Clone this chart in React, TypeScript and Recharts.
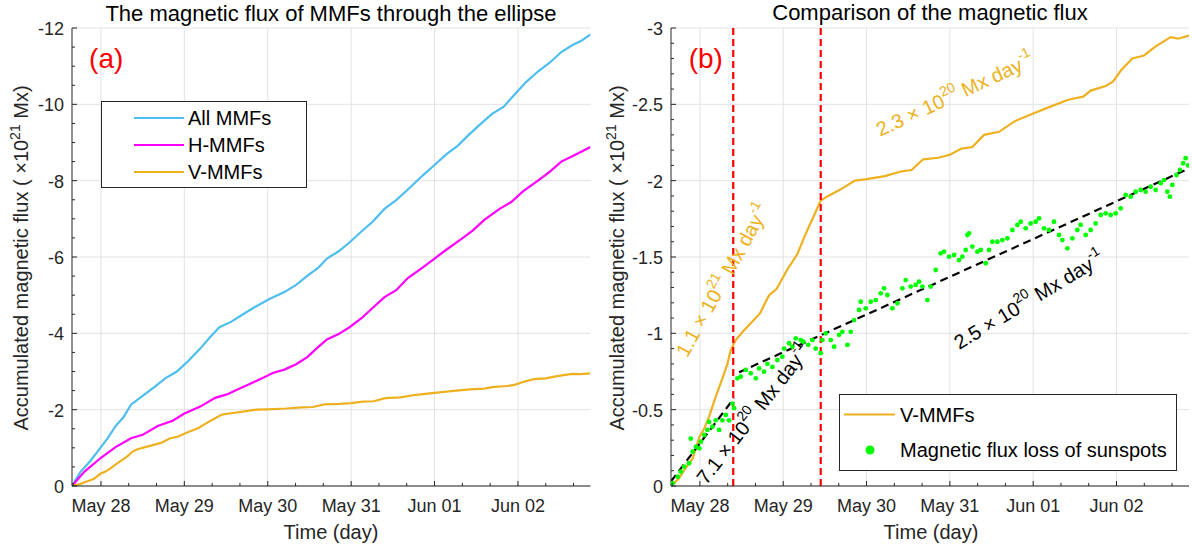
import React from 'react';
import {
  ComposedChart, Line, Scatter, XAxis, YAxis, CartesianGrid,
  ReferenceLine, ReferenceDot, Legend,
} from 'recharts';

const FONT = '"Liberation Sans", Arial, Helvetica, sans-serif';
const AX = '#262626';
const GRID = '#e2e2e2';
const C_ALL = '#4DBEEE';
const C_H = '#FF00FF';
const C_V = '#EDB120';
const C_G = '#00FF00';
const LW = 2.2;

// ---------- axis ticks ----------
const dayTicks = [0, 1, 2, 3, 4, 5];
const dayLabels = ['May 28', 'May 29', 'May 30', 'May 31', 'Jun 01', 'Jun 02'];
const xDomain = [-0.347, 5.87];
const xMinorTicks = [-1 / 3, 0, 1 / 3, 2 / 3, 1, 4 / 3, 5 / 3, 2, 7 / 3, 8 / 3, 3, 10 / 3, 11 / 3, 4, 13 / 3, 14 / 3, 5, 16 / 3, 17 / 3];

const yMajorA = [0, -2, -4, -6, -8, -10, -12];
const yTicksA = [0, -0.5, -1, -1.5, -2, -2.5, -3, -3.5, -4, -4.5, -5, -5.5, -6, -6.5, -7, -7.5, -8, -8.5, -9, -9.5, -10, -10.5, -11, -11.5, -12];
const yMajorB = [0, -0.5, -1, -1.5, -2, -2.5, -3];
const yTicksB = [0, -0.1, -0.2, -0.3, -0.4, -0.5, -0.6, -0.7, -0.8, -0.9, -1, -1.1, -1.2, -1.3, -1.4, -1.5, -1.6, -1.7, -1.8, -1.9, -2, -2.1, -2.2, -2.3, -2.4, -2.5, -2.6, -2.7, -2.8, -2.9, -3];

// ---------- series (time in days from May 28 00:00, flux in 1e21 Mx) ----------
const allMMFs: [number, number][] = [
  [-0.347, 0], [-0.245, -0.37], [-0.13, -0.65], [0, -1.02], [0.08, -1.25], [0.175, -1.57], [0.27, -1.8],
  [0.36, -2.13], [0.5, -2.36], [0.64, -2.59], [0.77, -2.82], [0.91, -3.0], [1.05, -3.28], [1.19, -3.6],
  [1.3, -3.88], [1.42, -4.16], [1.56, -4.3], [1.69, -4.48], [1.83, -4.67], [2.02, -4.9], [2.2, -5.08],
  [2.34, -5.27], [2.47, -5.5], [2.61, -5.73], [2.71, -5.96], [2.85, -6.15], [2.98, -6.38], [3.12, -6.66],
  [3.26, -6.93], [3.4, -7.26], [3.54, -7.49], [3.68, -7.77], [3.86, -8.14], [4.0, -8.41], [4.14, -8.69],
  [4.28, -8.92], [4.41, -9.2], [4.55, -9.48], [4.69, -9.75], [4.83, -9.94], [4.96, -10.26], [5.1, -10.59],
  [5.24, -10.86], [5.38, -11.09], [5.52, -11.37], [5.66, -11.56], [5.75, -11.65], [5.87, -11.83],
];

const hMMFs: [number, number][] = [
  [-0.347, 0], [-0.2, -0.37], [0, -0.74], [0.175, -1.02], [0.36, -1.25], [0.5, -1.34], [0.68, -1.57],
  [0.86, -1.71], [1.0, -1.9], [1.19, -2.08], [1.37, -2.31], [1.51, -2.4], [1.65, -2.54], [1.79, -2.68],
  [1.93, -2.82], [2.06, -2.96], [2.2, -3.05], [2.34, -3.19], [2.47, -3.37], [2.61, -3.65], [2.71, -3.84],
  [2.85, -3.98], [2.98, -4.16], [3.12, -4.39], [3.26, -4.67], [3.4, -4.95], [3.54, -5.13], [3.68, -5.45],
  [3.86, -5.73], [4.0, -5.96], [4.14, -6.19], [4.32, -6.47], [4.46, -6.7], [4.6, -6.98], [4.78, -7.26],
  [4.92, -7.44], [5.06, -7.72], [5.24, -8.0], [5.38, -8.23], [5.52, -8.5], [5.7, -8.69], [5.87, -8.88],
];

const vMMFs: [number, number][] = [
  [-0.347, 0], [-0.25, -0.05], [-0.187, -0.105], [-0.087, -0.18], [-0.007, -0.32], [0.053, -0.378],
  [0.11, -0.454], [0.19, -0.585], [0.27, -0.705], [0.33, -0.8], [0.37, -0.89], [0.43, -0.956], [0.53, -1.02],
  [0.61, -1.066], [0.72, -1.13], [0.83, -1.25], [0.92, -1.29], [1.04, -1.41], [1.17, -1.52], [1.26, -1.64],
  [1.36, -1.76], [1.45, -1.87], [1.54, -1.9], [1.68, -1.94], [1.86, -2.0], [2.0, -2.01], [2.22, -2.03],
  [2.41, -2.06], [2.54, -2.07], [2.68, -2.14], [2.86, -2.15], [3.0, -2.17], [3.14, -2.21], [3.27, -2.22],
  [3.41, -2.3], [3.59, -2.32], [3.78, -2.39], [4.0, -2.44], [4.23, -2.49], [4.42, -2.53], [4.6, -2.55],
  [4.69, -2.59], [4.87, -2.62], [4.96, -2.65], [5.05, -2.72], [5.19, -2.8], [5.33, -2.82], [5.47, -2.88],
  [5.65, -2.94], [5.74, -2.93], [5.87, -2.95],
];

const sunspotLoss: [number, number][] = [
  [-0.327, -0.018], [-0.267, -0.061], [-0.23, -0.094], [-0.19, -0.127], [-0.13, -0.149], [-0.11, -0.31],
  [-0.087, -0.225], [-0.047, -0.257], [-0.007, -0.247], [0.012, -0.29], [0.053, -0.334], [0.09, -0.367],
  [0.11, -0.42], [0.15, -0.388], [0.19, -0.43], [0.23, -0.367], [0.27, -0.43], [0.31, -0.465], [0.35, -0.43],
  [0.39, -0.54], [0.41, -0.51],
  [0.45, -0.705], [0.49, -0.716], [0.55, -0.76], [0.61, -0.738], [0.67, -0.705], [0.71, -0.77], [0.77, -0.749],
  [0.81, -0.8], [0.87, -0.78], [0.93, -0.825], [0.99, -0.847], [1.01, -0.9], [1.07, -0.935], [1.11, -0.912],
  [1.15, -0.967], [1.21, -0.956], [1.24, -0.945], [1.3, -0.924], [1.35, -0.956], [1.39, -0.9], [1.45, -0.87],
  [1.47, -0.956], [1.51, -1.0], [1.57, -0.956], [1.61, -0.912], [1.67, -0.99], [1.71, -1.01], [1.77, -0.924],
  [1.81, -1.01], [1.85, -1.087], [1.91, -1.153], [1.93, -1.207], [1.99, -1.164], [2.05, -1.207], [2.11, -1.218],
  [2.17, -1.262], [2.21, -1.295], [2.25, -1.251], [2.31, -1.164], [2.37, -1.197], [2.43, -1.295], [2.47, -1.349],
  [2.53, -1.306], [2.59, -1.317], [2.63, -1.338], [2.67, -1.306], [2.73, -1.218], [2.77, -1.306], [2.83, -1.415],
  [2.89, -1.524], [2.93, -1.535], [2.99, -1.502], [3.05, -1.513], [3.11, -1.48], [3.15, -1.502], [3.19, -1.546],
  [3.21, -1.644], [3.23, -1.655], [3.27, -1.568], [3.33, -1.535], [3.37, -1.546], [3.43, -1.459], [3.47, -1.546],
  [3.51, -1.6], [3.57, -1.6], [3.63, -1.611], [3.69, -1.622], [3.75, -1.677], [3.81, -1.71], [3.85, -1.731],
  [3.91, -1.688], [3.97, -1.72], [4.03, -1.731], [4.07, -1.753], [4.13, -1.688], [4.19, -1.677], [4.25, -1.731],
  [4.31, -1.644], [4.35, -1.611], [4.41, -1.557], [4.47, -1.622], [4.53, -1.677], [4.57, -1.71], [4.63, -1.644],
  [4.69, -1.677], [4.75, -1.72], [4.81, -1.775], [4.87, -1.786], [4.93, -1.775], [4.99, -1.786], [5.05, -1.819],
  [5.11, -1.906], [5.17, -1.895], [5.23, -1.928], [5.29, -1.939], [5.35, -1.928], [5.41, -1.96], [5.47, -1.939],
  [5.53, -1.983], [5.57, -2.004], [5.61, -1.928], [5.64, -1.895], [5.67, -1.972], [5.72, -2.037], [5.76, -2.07],
  [5.8, -2.114], [5.83, -2.147], [5.86, -2.1],
];

const fitEarly: [number, number][] = [[-0.347, -0.03], [0.41, -0.575]];
const fitLate: [number, number][] = [[0.47, -0.745], [5.87, -2.08]];
const phaseBounds = [0.4, 1.45];

// annotation anchors (t, v, angle)
const rateNotes = [
  { t: 0.272, v: -1.349, angle: -61, mant: '1.1', exp: '21', color: C_V },
  { t: 3.06, v: -2.565, angle: -25, mant: '2.3', exp: '20', color: C_V },
  { t: 0.641, v: -0.472, angle: -52, mant: '7.1', exp: '20', color: '#000000' },
  { t: 3.949, v: -1.218, angle: -31, mant: '2.5', exp: '20', color: '#000000' },
];

const toPts = (arr: [number, number][]) => arr.map(([t, v]) => ({ t, v }));

// ---------- ticks ----------
const isMult = (v: number, step: number) => Math.abs(v / step - Math.round(v / step)) < 1e-6;

const XTick = (side: 'bottom' | 'top', labels: boolean) => (props: any) => {
  const { x, y, payload } = props;
  const v = payload.value as number;
  const major = isMult(v, 1);
  const len = major ? 5 : 3;
  const dir = side === 'bottom' ? -1 : 1;
  return (
    <g>
      <line x1={x} y1={y} x2={x} y2={y + dir * len} stroke={AX} strokeWidth={1} />
      {labels && major && (
        <text x={x} y={y + 26} textAnchor="middle" fontSize={18} fill={AX} fontFamily={FONT}>
          {dayLabels[dayTicks.indexOf(Math.round(v))]}
        </text>
      )}
    </g>
  );
};

const YTick = (side: 'left' | 'right', step: number, labels: boolean) => (props: any) => {
  const { x, y, payload } = props;
  const v = payload.value as number;
  const major = isMult(v, step);
  const len = major ? 5 : 3;
  const dir = side === 'left' ? 1 : -1;
  const lab = String(Math.round(v * 10) / 10);
  return (
    <g>
      <line x1={x} y1={y} x2={x + dir * len} y2={y} stroke={AX} strokeWidth={1} />
      {labels && major && (
        <text x={x - 8} y={y + 1} textAnchor="end" dominantBaseline="central" fontSize={18} fill={AX} fontFamily={FONT}>
          {lab}
        </text>
      )}
    </g>
  );
};

const RateText = (note: typeof rateNotes[number]) => (p: any) => {
  const { cx, cy } = p;
  return (
    <text
      x={cx}
      y={cy}
      transform={`rotate(${note.angle}, ${cx}, ${cy})`}
      textAnchor="middle"
      dominantBaseline="central"
      fontSize={20}
      fill={note.color}
      fontFamily={FONT}
    >
      {note.mant} × 10
      <tspan dy={-8} fontSize={14}>{note.exp}</tspan>
      <tspan dy={8}> Mx day</tspan>
      <tspan dy={-8} fontSize={14}>-1</tspan>
    </text>
  );
};

const PanelTag = (label: string) => (p: any) => (
  <text x={p.cx} y={p.cy} fontSize={28} fill="#FF0000" fontFamily={FONT}>{label}</text>
);

const YLabel = ({ x }: { x: number }) => (
  <text x={x} y={258} transform={`rotate(-90, ${x}, 258)`} textAnchor="middle" fontSize={20} fill={AX} fontFamily={FONT}>
    Accumulated magnetic flux ( ×10
    <tspan dy={-8} fontSize={14}>21</tspan>
    <tspan dy={8}> Mx)</tspan>
  </text>
);

const LegendA = () => (
  <svg width={206} height={87} style={{ display: 'block' }}>
    <rect x={0.5} y={0.5} width={205} height={86} fill="#fff" stroke={AX} strokeWidth={1} />
    {[
      { name: 'All MMFs', color: C_ALL, y: 17 },
      { name: 'H-MMFs', color: C_H, y: 44 },
      { name: 'V-MMFs', color: C_V, y: 71 },
    ].map((e) => (
      <g key={e.name}>
        <line x1={33} x2={83} y1={e.y} y2={e.y} stroke={e.color} strokeWidth={LW} />
        <text x={87} y={e.y} dominantBaseline="central" fontSize={20} fill="#000" fontFamily={FONT}>{e.name}</text>
      </g>
    ))}
  </svg>
);

const LegendB = () => (
  <svg width={338} height={77} style={{ display: 'block' }}>
    <rect x={0.5} y={0.5} width={337} height={76} fill="#fff" stroke={AX} strokeWidth={1} />
    <line x1={5} x2={56} y1={20.5} y2={20.5} stroke={C_V} strokeWidth={LW} />
    <text x={61} y={20.5} dominantBaseline="central" fontSize={20} fill="#000" fontFamily={FONT}>V-MMFs</text>
    <circle cx={31} cy={56} r={4.5} fill={C_G} />
    <text x={61} y={56} dominantBaseline="central" fontSize={20} fill="#000" fontFamily={FONT}>Magnetic flux loss of sunspots</text>
  </svg>
);

const W = 596;
const H = 552;

const commonAxes = (yDomain: number[], yTicks: number[], yStep: number, yWidth: number) => [
  <XAxis
    key="xb"
    xAxisId={0}
    dataKey="t"
    type="number"
    domain={xDomain}
    allowDataOverflow
    ticks={xMinorTicks}
    interval={0}
    tickSize={0}
    tickMargin={0}
    tickLine={false}
    height={66}
    axisLine={{ stroke: AX, strokeWidth: 1 }}
    tick={XTick('bottom', true)}
  />,
  <XAxis
    key="xt"
    xAxisId="top"
    orientation="top"
    type="number"
    domain={xDomain}
    allowDataOverflow
    ticks={xMinorTicks}
    interval={0}
    tickSize={0}
    tickMargin={0}
    tickLine={false}
    height={0}
    axisLine={{ stroke: AX, strokeWidth: 1 }}
    tick={XTick('top', false)}
  />,
  <YAxis
    key="yl"
    yAxisId={0}
    dataKey="v"
    type="number"
    domain={yDomain}
    reversed
    allowDataOverflow
    ticks={yTicks}
    interval={0}
    tickSize={0}
    tickMargin={0}
    tickLine={false}
    width={yWidth}
    axisLine={{ stroke: AX, strokeWidth: 1 }}
    tick={YTick('left', yStep, true)}
  />,
  <YAxis
    key="yr"
    yAxisId="r"
    orientation="right"
    type="number"
    domain={yDomain}
    reversed
    allowDataOverflow
    ticks={yTicks}
    interval={0}
    tickSize={0}
    tickMargin={0}
    tickLine={false}
    width={0}
    axisLine={{ stroke: AX, strokeWidth: 1 }}
    tick={YTick('right', yStep, false)}
  />,
];

const ChartA = () => (
  <ComposedChart width={W} height={H} margin={{ top: 28, right: 5.5, bottom: 0, left: 0 }}>
    <CartesianGrid stroke={GRID} verticalValues={dayTicks} horizontalValues={yMajorA} />
    {commonAxes([-12, 0], yTicksA, 2, 72)}
    <Line data={toPts(allMMFs)} dataKey="v" stroke={C_ALL} strokeWidth={LW} dot={false} isAnimationActive={false} />
    <Line data={toPts(hMMFs)} dataKey="v" stroke={C_H} strokeWidth={LW} dot={false} isAnimationActive={false} />
    <Line data={toPts(vMMFs)} dataKey="v" stroke={C_V} strokeWidth={LW} dot={false} isAnimationActive={false} />
    <ReferenceDot x={-0.142} y={-10.95} r={1} ifOverflow="visible" shape={PanelTag('(a)')} />
    <Legend
      layout="vertical"
      align="center"
      verticalAlign="middle"
      wrapperStyle={{ left: 101, top: 101, width: 206, height: 87 }}
      content={() => <LegendA />}
    />
    <text x={331} y={20.5} textAnchor="middle" fontSize={22} fill="#000" fontFamily={FONT}>
      The magnetic flux of MMFs through the ellipse
    </text>
    <text x={331} y={539} textAnchor="middle" fontSize={20} fill={AX} fontFamily={FONT}>Time (day)</text>
    <YLabel x={28} />
  </ComposedChart>
);

const ChartB = () => (
  <ComposedChart width={W} height={H} margin={{ top: 28, right: 3, bottom: 0, left: 0 }}>
    <CartesianGrid stroke={GRID} verticalValues={dayTicks} horizontalValues={yMajorB} />
    {commonAxes([-3, 0], yTicksB, 0.5, 75)}
    <Line data={toPts(vMMFs)} dataKey="v" stroke={C_V} strokeWidth={LW} dot={false} isAnimationActive={false} />
    <Scatter
      data={toPts(sunspotLoss)}
      dataKey="v"
      fill={C_G}
      isAnimationActive={false}
      shape={(p: any) => <circle cx={p.cx} cy={p.cy} r={2.4} fill={C_G} />}
    />
    <Line data={toPts(fitEarly)} dataKey="v" stroke="#000" strokeWidth={LW} strokeDasharray="8 5" dot={false} isAnimationActive={false} />
    <Line data={toPts(fitLate)} dataKey="v" stroke="#000" strokeWidth={LW} strokeDasharray="8 5" dot={false} isAnimationActive={false} />
    {phaseBounds.map((t) => (
      <ReferenceLine key={t} x={t} stroke="#FF0000" strokeWidth={LW} strokeDasharray="7 4" />
    ))}
    {rateNotes.map((n) => (
      <ReferenceDot key={n.mant} x={n.t} y={n.v} r={1} ifOverflow="visible" shape={RateText(n)} />
    ))}
    <ReferenceDot x={-0.135} y={-2.738} r={1} ifOverflow="visible" shape={PanelTag('(b)')} />
    <Legend
      layout="vertical"
      align="center"
      verticalAlign="middle"
      wrapperStyle={{ left: 243, top: 394, width: 338, height: 77 }}
      content={() => <LegendB />}
    />
    <text x={334} y={19.5} textAnchor="middle" fontSize={22} fill="#000" fontFamily={FONT}>
      Comparison of the magnetic flux
    </text>
    <text x={335} y={539} textAnchor="middle" fontSize={20} fill={AX} fontFamily={FONT}>Time (day)</text>
    <YLabel x={28} />
  </ComposedChart>
);

export default function App() {
  return (
    <div style={{ position: 'absolute', left: 0, top: 0, width: 1192, height: 552, background: '#fff', fontFamily: FONT }}>
      <div style={{ position: 'absolute', left: 0, top: 0, width: W, height: H }}>
        <ChartA />
      </div>
      <div style={{ position: 'absolute', left: 596, top: 0, width: W, height: H }}>
        <ChartB />
      </div>
    </div>
  );
}
